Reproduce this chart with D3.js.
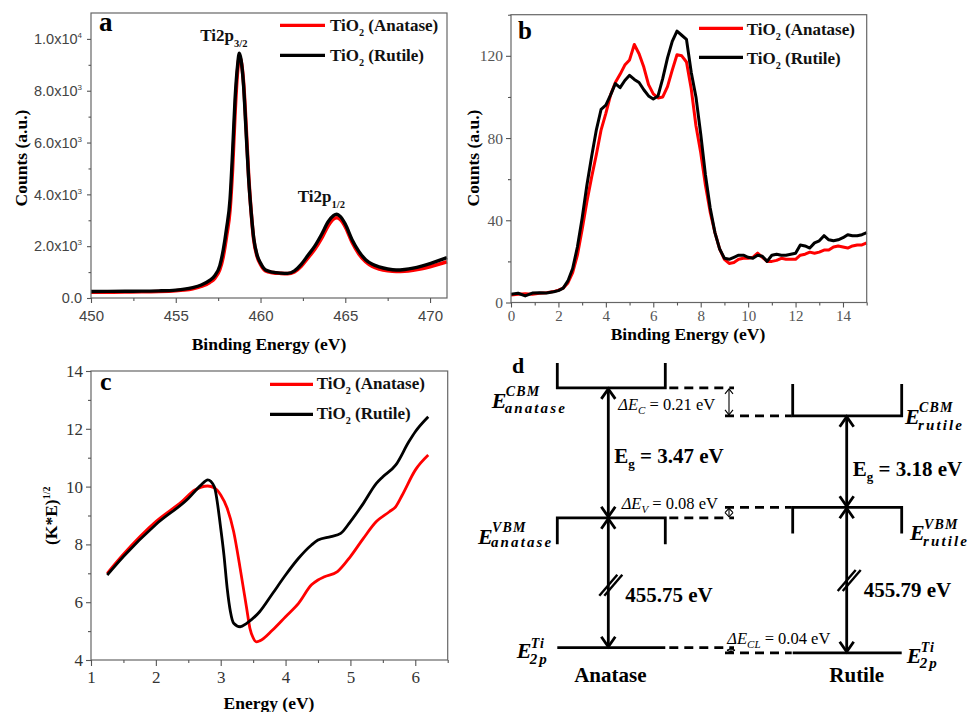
<!DOCTYPE html>
<html><head><meta charset="utf-8">
<script src="https://cdn.jsdelivr.net/npm/d3@7"></script>
<style>body{margin:0;background:#fff;} svg{display:block;}</style>
</head><body><svg id="chart" width="973" height="712"></svg>
<script>
// ---------------- DATA ----------------
const seriesNames = ["(Anatase)", "(Rutile)"];
const seriesColors = ["#ff0000", "#000000"];

// Panel a : Ti 2p XPS
const aEnergy = [450,451,452,453,454,455,455.5,456,456.5,457,457.3,457.6,457.8,458.0,458.2,458.35,458.5,458.65,458.75,458.85,459.0,459.15,459.3,459.45,459.6,459.8,460.0,460.3,460.7,461.2,461.6,462.0,462.4,462.8,463.2,463.6,464.0,464.3,464.5,464.7,465.0,465.4,465.8,466.2,466.6,467.0,467.5,468.0,468.5,469.0,469.5,470.0,470.5,471.0];
const aRutile = [250,255,260,265,275,305,340,400,500,680,860,1250,1850,2700,3800,5600,7700,9000,9450,9200,8200,6400,4600,3300,2300,1650,1350,1080,1000,960,950,1050,1300,1650,2000,2450,2950,3180,3230,3150,2850,2250,1800,1480,1300,1200,1120,1080,1100,1150,1230,1330,1440,1560];
const aAnatase = [220,225,230,240,250,280,310,360,450,600,760,1100,1600,2400,3400,5000,7200,8800,9300,9150,8300,6600,4700,3300,2250,1600,1300,1050,980,950,940,1010,1230,1550,1880,2300,2800,3050,3100,3030,2750,2150,1700,1400,1220,1120,1050,1020,1030,1070,1130,1210,1300,1400];
const aXTicks = [450,455,460,465,470];
const aYTicks = [0,2000,4000,6000,8000,10000];
const aPeakLabels = [{main:"Ti2p", sub:"3/2", e:458.75, c:9450}, {main:"Ti2p", sub:"1/2", e:464.5, c:3230}];

// Panel b : valence band XPS
const bEnergy = [0,0.3,0.6,0.9,1.2,1.5,1.8,2.0,2.2,2.4,2.6,2.8,3.0,3.2,3.4,3.6,3.8,4.0,4.2,4.4,4.6,4.8,5.0,5.2,5.4,5.6,5.8,6.0,6.2,6.4,6.6,6.8,7.0,7.2,7.4,7.6,7.8,8.0,8.2,8.4,8.6,8.8,9.0,9.2,9.4,9.6,9.8,10.0,10.2,10.4,10.6,10.8,11.0,11.2,11.4,11.6,11.8,12.0,12.2,12.4,12.6,12.8,13.0,13.2,13.4,13.6,13.8,14.0,14.2,14.4,14.6,14.8,15.0];
const bRutile = [4,4.5,3.2,4.6,4.8,4.6,5.2,5.8,7.0,10.5,16.5,27,41,57,71,84,94,96,101,106.5,104.5,108,110.5,108.5,107,103.5,100.5,99,100.5,109,119,127,132,130,128,112,100,82,62,46,34,26,21.5,21,22,23,23,22,21.5,23,22.5,20,23,23.5,23,23,23.5,24,28,27.5,26.5,29,30,32.5,30.5,30,30.5,31.5,33,32.5,32.5,33,34];
const bAnatase = [3.6,4.0,4.3,4.0,4.5,4.8,5.3,6.0,7.0,9.5,14.5,23,35.5,49,61,72,84,92,101,107,111,115.5,118,125.5,121,114.5,106,101.5,99.5,100,105,113,120.5,120,117,104,86,73,57,44,34,26,21,19,19.5,21,21.5,21.5,22,24,22,20,20,20.5,21.5,21,21,21,23,23.5,24.5,24,24.5,25.5,25.5,27,27.5,27,26.5,27.5,28,28,29];
const bXTicks = [0,2,4,6,8,10,12,14];
const bYTicks = [0,40,80,120];

// Panel c : (K*E)^1/2 vs energy
const cEnergyR = [1.25,1.5,2.0,2.5,2.7,2.8,2.9,3.0,3.05,3.1,3.15,3.2,3.3,3.4,3.6,3.8,4.0,4.2,4.4,4.5,4.7,4.85,5.0,5.2,5.4,5.5,5.7,5.9,6.0,6.2];
const cRutile  = [6.94,7.58,8.69,9.59,10.06,10.23,10.0,8.56,7.63,6.48,5.67,5.27,5.15,5.27,5.67,6.3,6.94,7.52,7.98,8.15,8.27,8.38,8.79,9.42,10.11,10.34,10.75,11.55,11.9,12.42];
const cEnergyA = [1.25,1.5,2.0,2.4,2.6,2.8,2.9,3.0,3.1,3.2,3.3,3.4,3.45,3.5,3.55,3.6,3.8,4.0,4.2,4.4,4.5,4.6,4.8,5.0,5.2,5.4,5.6,5.7,5.8,6.0,6.2];
const cAnatase = [7.0,7.66,8.79,9.48,9.88,10.02,9.96,9.71,9.25,8.44,7.17,5.79,5.1,4.77,4.63,4.66,5.04,5.5,5.96,6.6,6.77,6.88,7.06,7.58,8.21,8.79,9.13,9.31,9.71,10.57,11.09];
const cXTicks = [1,2,3,4,5,6];
const cYTicks = [4,6,8,10,12,14];

// Panel d : schematic band alignment (schematic level heights, arbitrary units)
const dPhaseNames = ["Anatase", "Rutile"];
const dCBM  = [9.07, 8.14];
const dVBM  = [4.74, 5.09];
const dCore = [0.41, 0.24];
const dGap  = ["3.47", "3.18"];
const dCoreGap = ["455.75", "455.79"];
const dOffsetLabels = [["C","0.21"],["V","0.08"],["CL","0.04"]];

// ---------------- DRAWING ----------------
const SERIF = "'Liberation Serif','Times New Roman',serif";
const SANS = "'Liberation Sans',Arial,sans-serif";
const svg = d3.select("#chart");
svg.append("rect").attr("width",973).attr("height",712).attr("fill","#fff");

function frame(g, x, y){
  const [x0,x1] = x.range(), [y0,y1] = y.range();
  g.append("rect").attr("x",x0).attr("y",y1).attr("width",x1-x0).attr("height",y0-y1)
   .attr("fill","none").attr("stroke","#666").attr("stroke-width",1.2);
}
function styleAxis(sel, font, size, color){
  sel.select(".domain").remove();
  sel.selectAll(".tick line").attr("stroke","#555").attr("stroke-width",1.1);
  sel.selectAll(".tick text").attr("font-family",font).attr("font-size",size).attr("fill",color);
}
function minorTicks(domain, step){
  const out=[]; for(let v=domain[0]; v<=domain[1]+1e-9; v+=step) out.push(+v.toFixed(4)); return out;
}
function legend(g, x1, x2, ys, tys, tx, size){
  seriesNames.forEach((n,i)=>{
    g.append("line").attr("x1",x1).attr("x2",x2).attr("y1",ys[i]).attr("y2",ys[i])
      .attr("stroke",seriesColors[i]).attr("stroke-width",3.2);
    const t = g.append("text").attr("x",tx).attr("y",tys[i]).attr("font-family",SERIF)
      .attr("font-weight","bold").attr("font-size",size).attr("fill","#111");
    t.append("tspan").text("TiO");
    t.append("tspan").attr("font-size",size*0.6).attr("dy",5).text("2");
    t.append("tspan").attr("dy",-5).text(" " + n);
  });
}

// ===== Panel a =====
{
  const g = svg.append("g");
  const x = d3.scaleLinear().domain([450,471]).range([91,447]);
  const y = d3.scaleLinear().domain([0,11000]).range([298,13]);
  const line = d3.line().x(d=>x(d[0])).y(d=>y(d[1])).curve(d3.curveMonotoneX);
  [aAnatase, aRutile].forEach((s,i)=>{
    g.append("path").datum(aEnergy.map((e,j)=>[e,s[j]])).attr("d",line)
      .attr("fill","none").attr("stroke",seriesColors[i]).attr("stroke-width",i?3.4:3.6).attr("stroke-linejoin","round");
  });
  frame(g,x,y);
  const gx = g.append("g").attr("transform",`translate(0,${y(0)})`)
    .call(d3.axisBottom(x).tickValues(aXTicks).tickSize(5).tickPadding(7).tickFormat(d3.format("d")));
  styleAxis(gx, SANS, 15, "#444");
  const gxm = g.append("g").attr("transform",`translate(0,${y(0)})`)
    .call(d3.axisBottom(x).tickValues(minorTicks([452.5,470],5)).tickSize(3).tickFormat(""));
  styleAxis(gxm, SANS, 15, "#444");
  const gy = g.append("g").attr("transform",`translate(${x(450)},0)`)
    .call(d3.axisLeft(y).tickValues(aYTicks).tickSize(4).tickPadding(5));
  styleAxis(gy, SANS, 14.5, "#444");
  gy.selectAll(".tick text").each(function(d){
    const t = d3.select(this); t.text(null);
    if(d===0){ t.text("0.0"); return; }
    const ex = Math.floor(Math.log10(d)), m = d/Math.pow(10,ex);
    t.append("tspan").text(m.toFixed(1)+"x10");
    t.append("tspan").attr("font-size",8).attr("dy",-6).text(ex);
  });
  const gym = g.append("g").attr("transform",`translate(${x(450)},0)`)
    .call(d3.axisLeft(y).tickValues(minorTicks([1000,9000],2000)).tickSize(2.5).tickFormat(""));
  styleAxis(gym, SANS, 14, "#444");
  g.append("text").attr("x",(x(450)+x(471))/2).attr("y",350).attr("text-anchor","middle")
    .attr("font-family",SERIF).attr("font-weight","bold").attr("font-size",17.5).text("Binding Energy (eV)");
  g.append("text").attr("transform","translate(27,158) rotate(-90)").attr("text-anchor","middle")
    .attr("font-family",SERIF).attr("font-weight","bold").attr("font-size",17.5).text("Counts (a.u.)");
  g.append("text").attr("x",99).attr("y",31).attr("font-family",SERIF).attr("font-weight","bold").attr("font-size",27).text("a");
  aPeakLabels.forEach(p=>{
    const t = g.append("text").attr("x",x(p.e)-39).attr("y",y(p.c)-12)
      .attr("font-family",SERIF).attr("font-weight","bold").attr("font-size",17).attr("fill","#111");
    t.append("tspan").text(p.main);
    t.append("tspan").attr("font-size",10.5).attr("dy",6).text(p.sub);
  });
  legend(g, 280, 325, [25.3,55.3], [31,61], 330, 17);
}

// ===== Panel b =====
{
  const g = svg.append("g");
  const x = d3.scaleLinear().domain([0,15]).range([511,866.7]);
  const y = d3.scaleLinear().domain([0,140]).range([302.5,14.7]);
  const line = d3.line().x(d=>x(d[0])).y(d=>y(d[1]));
  [bAnatase, bRutile].forEach((s,i)=>{
    g.append("path").datum(bEnergy.map((e,j)=>[e,s[j]])).attr("d",line)
      .attr("fill","none").attr("stroke",seriesColors[i]).attr("stroke-width",3).attr("stroke-linejoin","round");
  });
  frame(g,x,y);
  const gx = g.append("g").attr("transform",`translate(0,${y(0)})`)
    .call(d3.axisBottom(x).tickValues(bXTicks).tickSize(5).tickPadding(3).tickFormat(d3.format("d")));
  styleAxis(gx, SERIF, 15, "#555");
  const gxm = g.append("g").attr("transform",`translate(0,${y(0)})`)
    .call(d3.axisBottom(x).tickValues(minorTicks([1,15],2)).tickSize(3).tickFormat(""));
  styleAxis(gxm, SERIF, 15, "#555");
  const gy = g.append("g").attr("transform",`translate(${x(0)},0)`)
    .call(d3.axisLeft(y).tickValues(bYTicks).tickSize(5).tickPadding(3).tickFormat(d3.format("d")));
  styleAxis(gy, SERIF, 15.5, "#555");
  const gym = g.append("g").attr("transform",`translate(${x(0)},0)`)
    .call(d3.axisLeft(y).tickValues(minorTicks([20,140],40)).tickSize(3).tickFormat(""));
  styleAxis(gym, SERIF, 15, "#555");
  g.append("text").attr("x",688).attr("y",340).attr("text-anchor","middle")
    .attr("font-family",SERIF).attr("font-weight","bold").attr("font-size",17.5).text("Binding Energy (eV)");
  g.append("text").attr("transform","translate(479,158) rotate(-90)").attr("text-anchor","middle")
    .attr("font-family",SERIF).attr("font-weight","bold").attr("font-size",17.5).text("Counts (a.u.)");
  g.append("text").attr("x",518).attr("y",39).attr("font-family",SERIF).attr("font-weight","bold").attr("font-size",25).text("b");
  legend(g, 699, 743, [28.3,57.3], [34.5,63.5], 746.7, 17);
}

// ===== Panel c =====
{
  const g = svg.append("g");
  const x = d3.scaleLinear().domain([1,6.5]).range([91,447.7]);
  const y = d3.scaleLinear().domain([4,14]).range([660,371]);
  const line = d3.line().x(d=>x(d[0])).y(d=>y(d[1])).curve(d3.curveMonotoneX);
  g.append("path").datum(cEnergyA.map((e,j)=>[e,cAnatase[j]])).attr("d",line)
    .attr("fill","none").attr("stroke",seriesColors[0]).attr("stroke-width",2.8);
  g.append("path").datum(cEnergyR.map((e,j)=>[e,cRutile[j]])).attr("d",line)
    .attr("fill","none").attr("stroke",seriesColors[1]).attr("stroke-width",2.8);
  frame(g,x,y);
  const gx = g.append("g").attr("transform",`translate(0,${y(4)})`)
    .call(d3.axisBottom(x).tickValues(cXTicks).tickSize(6).tickPadding(5).tickFormat(d3.format("d")));
  styleAxis(gx, SERIF, 17, "#333");
  const gxm = g.append("g").attr("transform",`translate(0,${y(4)})`)
    .call(d3.axisBottom(x).tickValues(minorTicks([1.5,6.5],1)).tickSize(3).tickFormat(""));
  styleAxis(gxm, SERIF, 17, "#333");
  const gy = g.append("g").attr("transform",`translate(${x(1)},0)`)
    .call(d3.axisLeft(y).tickValues(cYTicks).tickSize(5).tickPadding(3).tickFormat(d3.format("d")));
  styleAxis(gy, SERIF, 17, "#333");
  const gym = g.append("g").attr("transform",`translate(${x(1)},0)`)
    .call(d3.axisLeft(y).tickValues(minorTicks([5,13],2)).tickSize(3).tickFormat(""));
  styleAxis(gym, SERIF, 17, "#333");
  g.append("text").attr("x",269).attr("y",709).attr("text-anchor","middle")
    .attr("font-family",SERIF).attr("font-weight","bold").attr("font-size",17.5).text("Energy (eV)");
  const yt = g.append("text").attr("transform","translate(57,545) rotate(-90)").attr("text-anchor","start")
    .attr("font-family",SERIF).attr("font-weight","bold").attr("font-size",17.5);
  yt.append("tspan").text("(K*E)");
  yt.append("tspan").attr("font-size",10).attr("dy",-7).text("1/2");
  g.append("text").attr("x",100).attr("y",390).attr("font-family",SERIF).attr("font-weight","bold").attr("font-size",26).text("c");
  legend(g, 270, 313, [384.3,414.3], [389,418.5], 316.7, 17);
}

// ===== Panel d =====
{
  const g = svg.append("g");
  const y = d3.scaleLinear().domain([0,10]).range([660,360]);
  const x = d3.scalePoint().domain(dPhaseNames).range([608.3,846.7]);
  const LW = 2.8;
  const half = [[-51,57],[-54,55]];
  const mid = 730;
  const stroke = s => s.attr("stroke","#000").attr("stroke-width",LW).attr("fill","none");
  dPhaseNames.forEach((p,i)=>{
    const cx = x(p), L = cx+half[i][0], R = cx+half[i][1];
    const cbmTop = i===0 ? y(dCBM[i]+0.83) : y(dCBM[i]+1.06);
    stroke(g.append("path").attr("d",`M${L},${cbmTop}V${y(dCBM[i])}H${R}V${cbmTop}`));
    const vbmBot = i===0 ? y(dVBM[i]-0.88) : y(dVBM[i]-0.87);
    stroke(g.append("path").attr("d",`M${L},${vbmBot}V${y(dVBM[i])}H${R}V${vbmBot}`));
    stroke(g.append("line").attr("x1",L).attr("x2",R).attr("y1",y(dCore[i])).attr("y2",y(dCore[i])));
    [dCBM[i], dVBM[i], dCore[i]].forEach(v=>{
      const xa = i===0 ? R+4 : mid-5, xb = i===0 ? mid+4 : L-1;
      stroke(g.append("line").attr("x1",xa).attr("x2",xb).attr("y1",y(v)).attr("y2",y(v)).attr("stroke-dasharray","9,6"));
    });
    const arrow = (ya, yb) => {
      stroke(g.append("line").attr("x1",cx).attr("x2",cx).attr("y1",ya+1).attr("y2",yb-1));
      stroke(g.append("path").attr("d",`M${cx-7},${ya+11}L${cx},${ya+1}L${cx+7},${ya+11}`));
      stroke(g.append("path").attr("d",`M${cx-7},${yb-11}L${cx},${yb-1}L${cx+7},${yb-11}`));
    };
    arrow(y(dCBM[i]), y(dVBM[i]));
    arrow(y(dVBM[i]), y(dCore[i]));
    const by = (y(dVBM[i]) + y(dCore[i]))/2 + (i===0?2:0);
    [0,5].forEach(o=>{
      g.append("line").attr("x1",cx-9+o).attr("y1",by+11).attr("x2",cx+9+o).attr("y2",by-10)
        .attr("stroke","#000").attr("stroke-width",2.4);
    });
    const gy = (y(dCBM[i]) + y(dVBM[i]))/2 + (i===0?10:14);
    const t = g.append("text").attr("x",cx+6).attr("y",gy).attr("font-family",SERIF).attr("font-weight","bold").attr("font-size",21);
    t.append("tspan").text("E");
    t.append("tspan").attr("font-size",13).attr("dy",5).text("g");
    t.append("tspan").attr("dy",-5).text(" = "+dGap[i]+" eV");
    g.append("text").attr("x",cx+17).attr("y",by+17).attr("font-family",SERIF).attr("font-weight","bold")
      .attr("font-size",21).text(dCoreGap[i]+" eV");
    g.append("text").attr("x",cx+(i===0?2:10)).attr("y",681.7).attr("text-anchor","middle").attr("font-family",SERIF)
      .attr("font-weight","bold").attr("font-size",21).text(p);
  });
  const smallArrow = (ya, yb, xx) => {
    const s = e => e.attr("stroke","#000").attr("stroke-width",1.1).attr("fill","none");
    s(g.append("line").attr("x1",xx).attr("x2",xx).attr("y1",ya).attr("y2",yb));
    const h = Math.min(5,(yb-ya)/2);
    s(g.append("path").attr("d",`M${xx-4},${ya+h}L${xx},${ya}L${xx+4},${ya+h}`));
    s(g.append("path").attr("d",`M${xx-4},${yb-h}L${xx},${yb}L${xx+4},${yb-h}`));
  };
  smallArrow(y(dCBM[0])+1, y(dCBM[1])-1, 729);
  smallArrow(y(dVBM[1])+1, y(dVBM[0])-1, 729);
  smallArrow(y(dCore[0])+1, y(dCore[1])-1, 731);
  const offPos = [[618.3, y(dCBM[0])+22], [621.7, y(dVBM[1])+2], [727.3, y(dCore[0])-4]];
  dOffsetLabels.forEach((o,i)=>{
    const t = g.append("text").attr("x",offPos[i][0]).attr("y",offPos[i][1]).attr("font-family",SERIF).attr("font-size",16.5);
    t.append("tspan").attr("font-style","italic").text("ΔE");
    t.append("tspan").attr("font-style","italic").attr("font-size",11).attr("dy",4).text(o[0]);
    t.append("tspan").attr("dy",-4).text(" = "+o[1]+" eV");
  });
  const eLabel = (ex, ey, sup, sub, supDy, subDy) => {
    g.append("text").attr("x",ex).attr("y",ey).attr("font-family",SERIF).attr("font-style","italic")
      .attr("font-weight","bold").attr("font-size",22).text("E");
    g.append("text").attr("x",ex+14).attr("y",ey+supDy).attr("font-family",SERIF).attr("font-style","italic")
      .attr("font-weight","bold").attr("font-size",14).attr("letter-spacing",1.2).text(sup);
    g.append("text").attr("x",ex+13).attr("y",ey+subDy).attr("font-family",SERIF).attr("font-style","italic")
      .attr("font-weight","bold").attr("font-size",15).attr("letter-spacing",2.1).text(sub);
  };
  eLabel(491.7, y(dCBM[0])+20, "CBM", "anatase", -11.5, 5);
  eLabel(905, y(dCBM[1])+8, "CBM", "rutile", -12, 6.5);
  eLabel(478, y(dVBM[0])+26, "VBM", "anatase", -12, 3);
  eLabel(910, y(dVBM[1])+33, "VBM", "rutile", -11, 5.5);
  eLabel(516.7, y(dCore[0])+10.6, "Ti", "2p", -10.5, 5.5);
  eLabel(906.7, y(dCore[1])+10.6, "Ti", "2p", -11, 4.5);
  g.append("text").attr("x",512).attr("y",373).attr("font-family",SERIF).attr("font-weight","bold").attr("font-size",22).text("d");
}
</script></body></html>
